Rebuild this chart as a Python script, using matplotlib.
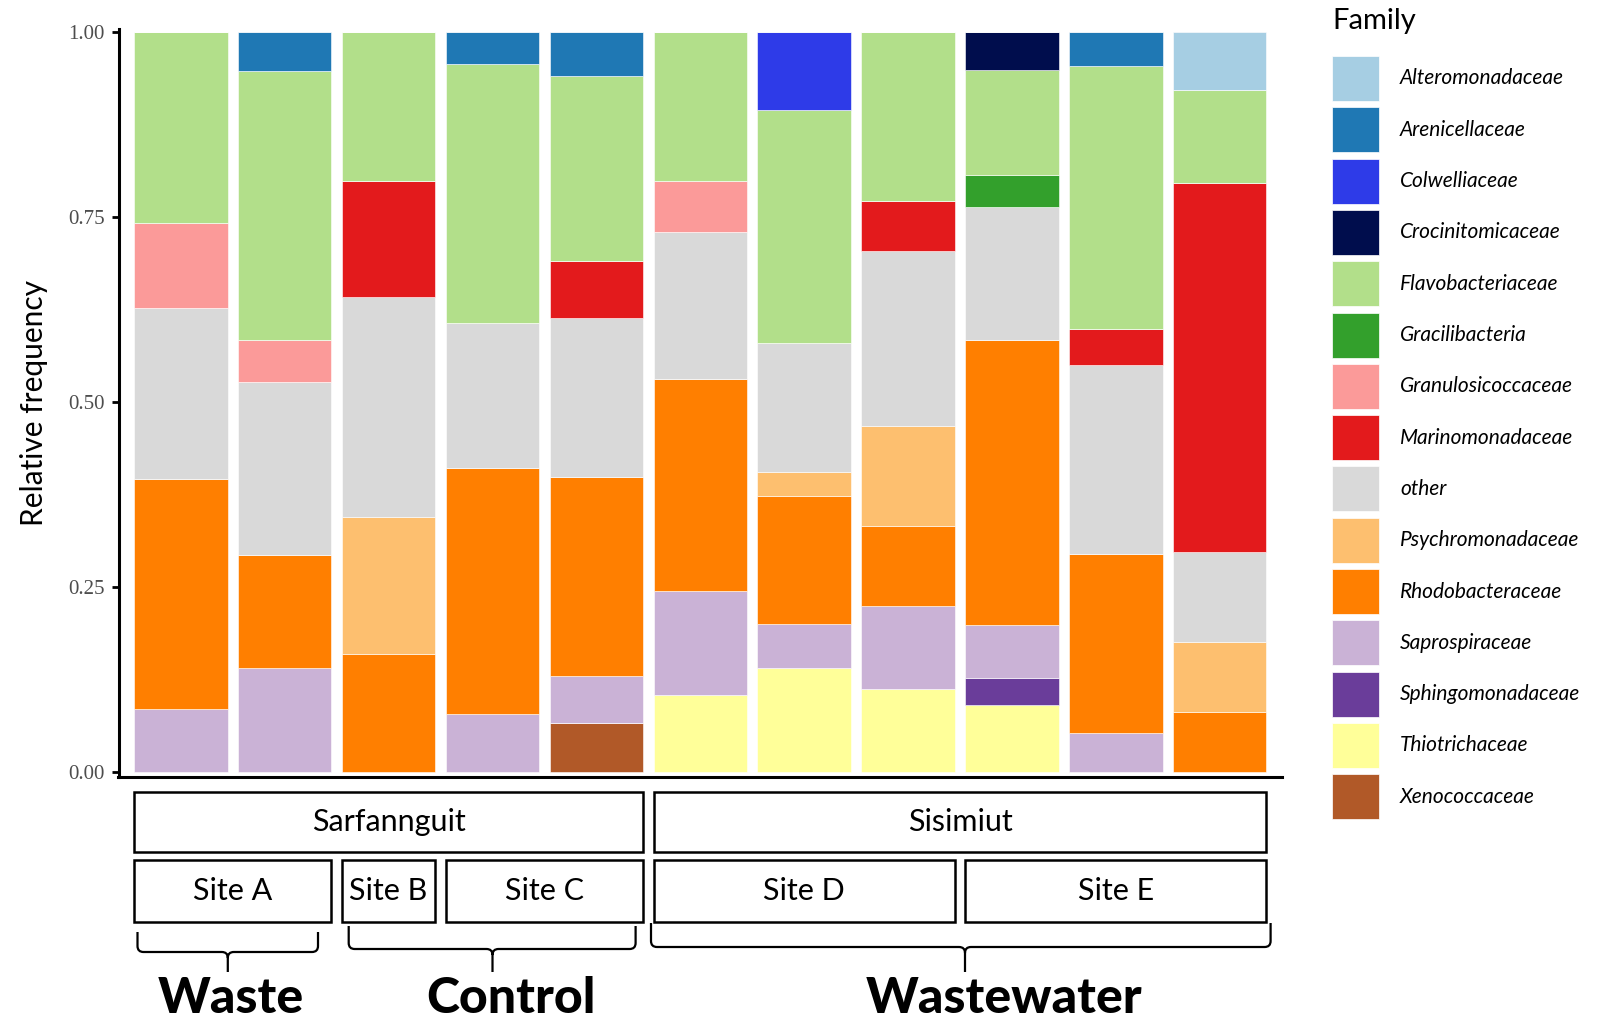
import numpy as np
import matplotlib
matplotlib.use("Agg")
import matplotlib.pyplot as plt
from matplotlib.patches import Rectangle, PathPatch
from matplotlib.path import Path
from matplotlib.transforms import blended_transform_factory

# samples (one bar each), grouped by town / site / type
samples = ["A1", "A2", "B1", "C1", "C2", "D1", "D2", "D3", "E1", "E2", "E3"]
towns = [("Sarfannguit", 1, 5), ("Sisimiut", 6, 11)]
sites = [("Site A", 1, 2), ("Site B", 3, 3), ("Site C", 4, 5),
         ("Site D", 6, 8), ("Site E", 9, 11)]

# legend order (top of stack first)
families = ["Alteromonadaceae", "Arenicellaceae", "Colwelliaceae", "Crocinitomicaceae",
            "Flavobacteriaceae", "Gracilibacteria", "Granulosicoccaceae", "Marinomonadaceae",
            "other", "Psychromonadaceae", "Rhodobacteraceae", "Saprospiraceae",
            "Sphingomonadaceae", "Thiotrichaceae", "Xenococcaceae"]
colors = ["#A6CEE3", "#1F78B4", "#2E3BE8", "#000D4D", "#B2DF8A", "#33A02C", "#FB9A99",
          "#E31A1C", "#D9D9D9", "#FDBF6F", "#FF7F00", "#CAB2D6", "#6A3D9A", "#FFFF99",
          "#B15928"]

# relative frequencies per sample
alteromonadaceae  = [0, 0, 0, 0, 0, 0, 0, 0, 0, 0, 0.079]
arenicellaceae    = [0, 0.053, 0, 0.043, 0.060, 0, 0, 0, 0, 0.046, 0]
colwelliaceae     = [0, 0, 0, 0, 0, 0, 0.105, 0, 0, 0, 0]
crocinitomicaceae = [0, 0, 0, 0, 0, 0, 0, 0, 0.051, 0, 0]
flavobacteriaceae = [0.258, 0.363, 0.201, 0.350, 0.250, 0.201, 0.315, 0.228, 0.142, 0.355, 0.125]
gracilibacteria   = [0, 0, 0, 0, 0, 0, 0, 0, 0.043, 0, 0]
granulosicoccaceae = [0.115, 0.057, 0, 0, 0, 0.069, 0, 0, 0, 0, 0]
marinomonadaceae  = [0, 0, 0.157, 0, 0.076, 0, 0, 0.068, 0, 0.049, 0.499]
other             = [0.231, 0.234, 0.298, 0.196, 0.216, 0.199, 0.174, 0.236, 0.180, 0.255, 0.121]
psychromonadaceae = [0, 0, 0.185, 0, 0, 0, 0.033, 0.135, 0, 0, 0.095]
rhodobacteraceae  = [0.311, 0.152, 0.159, 0.333, 0.268, 0.287, 0.173, 0.108, 0.385, 0.242, 0.081]
saprospiraceae    = [0.085, 0.141, 0, 0.078, 0.064, 0.140, 0.059, 0.113, 0.072, 0.053, 0]
sphingomonadaceae = [0, 0, 0, 0, 0, 0, 0, 0, 0.036, 0, 0]
thiotrichaceae    = [0, 0, 0, 0, 0, 0.104, 0.141, 0.112, 0.091, 0, 0]
xenococcaceae     = [0, 0, 0, 0, 0.066, 0, 0, 0, 0, 0, 0]

values = [alteromonadaceae, arenicellaceae, colwelliaceae, crocinitomicaceae,
          flavobacteriaceae, gracilibacteria, granulosicoccaceae, marinomonadaceae,
          other, psychromonadaceae, rhodobacteraceae, saprospiraceae,
          sphingomonadaceae, thiotrichaceae, xenococcaceae]

types = [("Waste", 231, 227.8, 137.5, 318, 932, 952),
         ("Control", 511, 492.5, 348.7, 635.6, 926, 949),
         ("Wastewater", 1004, 965, 651, 1270.6, 923, 947)]

W, H = 1616, 1023
fig = plt.figure(figsize=(W / 100, H / 100), dpi=100)
ax = fig.add_axes([118.5 / W, (H - 777) / H, (1282 - 118.5) / W, 748 / H])

x = np.arange(1, len(samples) + 1)
bottom = np.zeros(len(samples))
# stack from the last family (bottom) to the first (top), like ggplot
for name, col, vals in reversed(list(zip(families, colors, values))):
    v = np.array(vals)
    ax.bar(x, v, width=0.9, bottom=bottom, color=col, edgecolor="white",
           linewidth=0.4, label=name)
    bottom += v

ax.set_xlim(0.4, 11.6)
ax.set_ylim(-5 / 740, 1 + 3 / 740)
ax.set_yticks([0, 0.25, 0.5, 0.75, 1.0])
ax.set_yticklabels(["0.00", "0.25", "0.50", "0.75", "1.00"],
                   family="Liberation Serif", fontsize=15, color="#4D4D4D")
ax.set_xticks([])
ax.tick_params(axis="y", length=5, width=2, pad=5)
for s in ["top", "right"]:
    ax.spines[s].set_visible(False)
ax.spines["left"].set_linewidth(2.2)
ax.spines["bottom"].set_linewidth(2.2)
ax.set_ylabel("Relative frequency", family="Lato", fontsize=21.5)
ax.yaxis.set_label_coords(-0.061, 0.5)


def fx(px):
    return px / W


def fy(py):
    return 1 - py / H


# town / site boxes under the bars
bt = blended_transform_factory(ax.transData, fig.transFigure)
for label, a, b in towns:
    ax.add_patch(Rectangle((a - 0.45, fy(852)), b - a + 0.9, (852 - 792) / H,
                           transform=bt, clip_on=False, fill=False,
                           edgecolor="black", linewidth=1.8))
    fig.text((a + b) / 2, fy(822), label, transform=bt, fontsize=22, family="Lato",
             ha="center", va="center")
for label, a, b in sites:
    ax.add_patch(Rectangle((a - 0.45, fy(922)), b - a + 0.9, (922 - 860) / H,
                           transform=bt, clip_on=False, fill=False,
                           edgecolor="black", linewidth=1.8))
    fig.text((a + b) / 2, fy(891), label, transform=bt, fontsize=22, family="Lato",
             ha="center", va="center")

# braces and type labels
r = 6
for label, tx, xm, x0, x1, ytop, ybot in types:
    ytip = 972
    verts = [(x0, ytop), (x0, ybot - r), (x0, ybot), (x0 + r, ybot), (xm - r, ybot),
             (xm, ybot), (xm, ybot + r), (xm, ytip),
             (x1, ytop), (x1, ybot - r), (x1, ybot), (x1 - r, ybot), (xm + r, ybot),
             (xm, ybot), (xm, ybot + r)]
    codes = [Path.MOVETO, Path.LINETO, Path.CURVE3, Path.CURVE3, Path.LINETO,
             Path.CURVE3, Path.CURVE3, Path.LINETO,
             Path.MOVETO, Path.LINETO, Path.CURVE3, Path.CURVE3, Path.LINETO,
             Path.CURVE3, Path.CURVE3]
    p = Path([(fx(a), fy(b)) for a, b in verts], codes)
    fig.add_artist(PathPatch(p, fill=False, linewidth=1.6, edgecolor="black",
                             transform=fig.transFigure))
    fig.text(fx(tx), fy(1021), label, fontsize=36, family="Lato", weight="black",
             ha="center", va="bottom")

# legend
fig.text(fx(1332), fy(21), "Family", fontsize=21, family="Lato", va="center")
for i, (name, col) in enumerate(zip(families, colors)):
    ytop = 56 + i * 51.3
    fig.add_artist(Rectangle((fx(1332), fy(ytop + 45)), 47 / W, 45 / H,
                             transform=fig.transFigure, facecolor=col,
                             edgecolor="white", linewidth=0.5))
    fig.text(fx(1400), fy(ytop + 22.5), name, fontsize=15, family="Lato",
             style="italic", va="center")

fig.savefig("out.png", dpi=100)
